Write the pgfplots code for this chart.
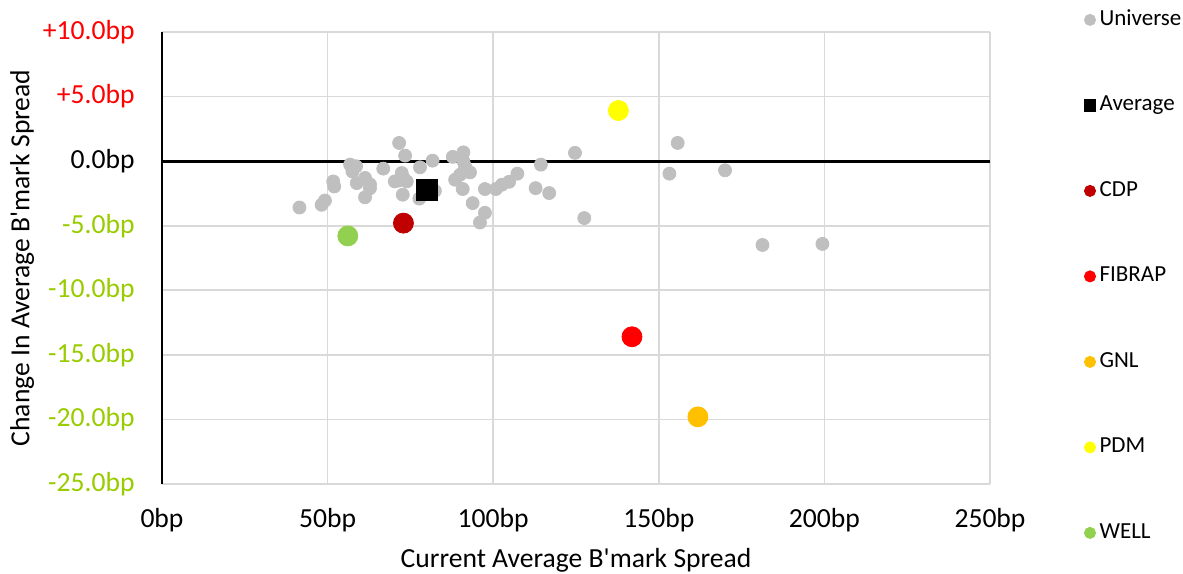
\documentclass[border=0pt]{standalone}
\usepackage{pgfplots}
\pgfplotsset{compat=1.18}
\usepackage{fontspec}
\setmainfont{Carlito}
\definecolor{uni}{HTML}{BFBFBF}
\definecolor{cdp}{HTML}{C00000}
\definecolor{fib}{HTML}{FF0000}
\definecolor{gnl}{HTML}{FFC000}
\definecolor{pdm}{HTML}{FFFF00}
\definecolor{well}{HTML}{92D050}
\definecolor{negg}{HTML}{99CC00}
\definecolor{gridc}{HTML}{D9D9D9}
\begin{document}
\begin{tikzpicture}
\begin{axis}[
  scale only axis, width=414pt, height=226pt,
  xmin=0, xmax=250, ymin=-25, ymax=10,
  xtick={0,50,100,150,200,250},
  xticklabels={0bp,50bp,100bp,150bp,200bp,250bp},
  ytick={-25,-20,-15,-10,-5,0,5,10},
  yticklabels={\textcolor{negg}{-25.0bp},\textcolor{negg}{-20.0bp},\textcolor{negg}{-15.0bp},\textcolor{negg}{-10.0bp},\textcolor{negg}{-5.0bp},0.0bp,\textcolor{fib}{+5.0bp},\textcolor{fib}{+10.0bp}},
  grid=major, major grid style={gridc, line width=0.8pt},
  axis line style={draw=none},
  major tick style={draw=none},
  tick label style={font=\fontsize{13.8}{15}\selectfont},
  xticklabel style={anchor=center, yshift=-18pt},
  yticklabel style={anchor=east, inner sep=0pt, xshift=-13.5pt},
  xlabel={Current Average B\textquotesingle mark Spread},
  ylabel={Change In Average B\textquotesingle mark Spread},
  label style={font=\fontsize{13.8}{15}\selectfont},
  xlabel style={at={(axis description cs:0.5,-0.168)}, anchor=center},
  ylabel style={at={(axis description cs:-0.169,0.5)}, anchor=center},
  legend style={at={(1,1)}, anchor=north west, xshift=47pt, yshift=11.5pt,
    draw=none, fill=none, inner sep=0pt, row sep=32.25pt,
    font=\fontsize{11.5}{13}\selectfont,
    nodes={inner sep=0pt, text height=8pt, text depth=2.5pt, anchor=west},
    /tikz/every odd column/.append style={column sep=2pt},
    legend cell align=left},
  legend image post style={mark size=2.8pt},
  legend image code/.code={\draw[mark repeat=2,mark phase=2] plot coordinates {(0pt,0pt) (3pt,0pt) (6pt,0pt)};},
  clip=false,
]
\draw[black, line width=1.4pt] (axis cs:0,0) -- (axis cs:250,0);
\draw[black, line width=1.4pt] (axis cs:0,-25) -- (axis cs:0,10);
\addplot[only marks, mark=*, mark size=3.25pt, mark options={fill=uni, draw=uni}] coordinates {
(41.5,-3.59) (48.2,-3.38) (49.2,-3.05) (51.7,-1.57) (52.0,-1.96)
(56.8,-0.27) (58.6,-0.40) (57.5,-0.8) (58.8,-1.7) (61.3,-1.3)
(62.8,-1.8) (62.8,-2.1) (61.3,-2.8) (66.8,-0.58) (71.6,1.41)
(73.4,0.43) (70.3,-1.57) (72.4,-0.92) (72.9,-1.3) (73.9,-1.57)
(71.5,-1.5) (72.7,-2.6) (77.9,-0.48) (77.7,-2.9) (81.7,0.04)
(82.4,-2.3) (87.8,0.33) (91.0,0.68) (91.0,0.0) (91.5,-0.4)
(90.0,-1.05) (93.0,-0.87) (88.5,-1.44) (90.8,-2.16) (93.8,-3.25)
(97.5,-2.16) (97.5,-4.0) (96.0,-4.75) (100.8,-2.16) (102.6,-1.83)
(104.8,-1.6) (107.3,-0.97) (112.8,-2.09) (114.4,-0.27) (116.9,-2.47)
(124.7,0.64) (127.5,-4.41) (153.2,-0.97) (155.7,1.41) (170.0,-0.71)
(181.3,-6.49) (199.4,-6.41)
};
\addlegendentry{Universe}
\addplot[only marks, mark=square*, mark size=5.25pt, mark options={fill=black, draw=black}] coordinates {(79.9,-2.21)};
\addlegendentry{Average}
\addplot[only marks, mark=*, mark size=5pt, mark options={fill=cdp, draw=cdp}] coordinates {(72.9,-4.8)};
\addlegendentry{CDP}
\addplot[only marks, mark=*, mark size=5pt, mark options={fill=fib, draw=fib}] coordinates {(141.9,-13.6)};
\addlegendentry{FIBRAP}
\addplot[only marks, mark=*, mark size=5pt, mark options={fill=gnl, draw=gnl}] coordinates {(161.8,-19.8)};
\addlegendentry{GNL}
\addplot[only marks, mark=*, mark size=5pt, mark options={fill=pdm, draw=pdm}] coordinates {(137.8,3.92)};
\addlegendentry{PDM}
\addplot[only marks, mark=*, mark size=5pt, mark options={fill=well, draw=well}] coordinates {(56.1,-5.79)};
\addlegendentry{WELL}
\coordinate (bl) at (rel axis cs:0,0);
\coordinate (tr) at (rel axis cs:1,1);
\end{axis}
\pgfresetboundingbox
\path[use as bounding box] ([xshift=-81pt,yshift=-44.5pt]bl) rectangle ([xshift=96.5pt,yshift=16pt]tr);
\end{tikzpicture}
\end{document}
